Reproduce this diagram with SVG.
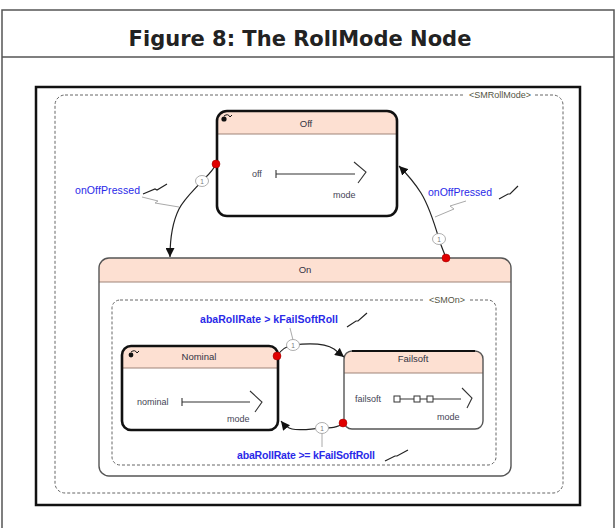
<svg xmlns="http://www.w3.org/2000/svg" width="616" height="528" viewBox="0 0 616 528">
<style>
.title{font-family:"DejaVu Sans",Verdana,sans-serif;font-weight:bold;font-size:21px;fill:#222}
.nt{font-family:"Liberation Sans",Arial,sans-serif;font-size:9.5px;fill:#334}
.ct{font-family:"Liberation Sans",Arial,sans-serif;font-size:9px;fill:#445}
.lbl{font-family:"Liberation Sans",Arial,sans-serif;font-size:10.5px;fill:#2a2ae8}
.sm{font-family:"Liberation Sans",Arial,sans-serif;font-size:9px;fill:#554}
.hdr{fill:#fde0d2}
.sep{stroke:#a08478;stroke-width:1.2}
.thick{fill:none;stroke:#111;stroke-width:2.6}
.thin{fill:none;stroke:#555;stroke-width:1.4}
.dash{fill:none;stroke:#666;stroke-width:1;stroke-dasharray:3 2}
.tr{fill:none;stroke:#222;stroke-width:1.2}
.gz{fill:none;stroke:#aaa;stroke-width:1}
.bk{fill:none;stroke:#222;stroke-width:1.2}
.dot{fill:#e00000;stroke:#900;stroke-width:0.5}
.pri{fill:#fff;stroke:#999;stroke-width:0.8}
.pt{font-family:"Liberation Sans",Arial,sans-serif;font-size:6.5px;fill:#777}
.out{fill:none;stroke:#333;stroke-width:1.1}
</style>
<defs>
<marker id="arr" viewBox="0 0 10 10" refX="10" refY="5" markerWidth="9" markerHeight="9" markerUnits="userSpaceOnUse" orient="auto">
<path d="M0,0 L10,5 L0,10 z" fill="#111"/>
</marker>
</defs>
<rect x="0" y="0" width="616" height="528" fill="#fff"/>
<g id="titlebox">
<rect x="2" y="10" width="612" height="530" fill="none" stroke="#555" stroke-width="1.5"/>
<line x1="2" y1="57" x2="614" y2="57" stroke="#555" stroke-width="1.5"/>
<text class="title" x="300" y="46" text-anchor="middle">Figure 8: The RollMode Node</text>
</g>
<g id="frame">
<rect x="36" y="87" width="544" height="418" fill="none" stroke="#111" stroke-width="2.5"/>
</g>
<g id="SMRollMode">
<rect x="55" y="95" width="508" height="398" rx="10" class="dash"/>
<rect x="465" y="90" width="70" height="10" fill="#fff"/>
<text class="sm" x="500" y="98" text-anchor="middle">&lt;SMRollMode&gt;</text>
</g>
<g id="Off">
<rect x="217" y="111" width="180" height="105" rx="10" fill="#fff"/>
<path class="hdr" d="M217,134 V121 Q217,111 227,111 H387 Q397,111 397,121 V134 Z"/>
<line class="sep" x1="217" y1="134" x2="397" y2="134"/>
<rect x="217" y="111" width="180" height="105" rx="10" class="thick"/>
<circle cx="224" cy="119" r="2.6" fill="#111"/>
<path d="M224,116 Q228,113 230,117 L232,115" fill="none" stroke="#111" stroke-width="1"/>
<text class="nt" x="306" y="127" text-anchor="middle">Off</text>
<text class="ct" x="252" y="177">off</text>
<line class="out" x1="276" y1="174" x2="355" y2="174"/>
<line class="out" x1="276" y1="170" x2="276" y2="178"/>
<path class="out" d="M354,162 L366,172 L358,183"/>
<text class="ct" x="333" y="198">mode</text>
</g>
<g id="On">
<rect x="99" y="258" width="412" height="218" rx="10" fill="#fff"/>
<path class="hdr" d="M99,282 V268 Q99,258 109,258 H501 Q511,258 511,268 V282 Z"/>
<line class="sep" x1="99" y1="282" x2="511" y2="282"/>
<rect x="99" y="258" width="412" height="218" rx="10" class="thin"/>
<text class="nt" x="305" y="273" text-anchor="middle">On</text>
</g>
<g id="SMOn">
<rect x="112" y="300" width="384" height="165" rx="8" class="dash"/>
<rect x="425" y="295" width="45" height="10" fill="#fff"/>
<text class="sm" x="447" y="303" text-anchor="middle">&lt;SMOn&gt;</text>
</g>
<g id="Nominal">
<rect x="122" y="346" width="156" height="84" rx="9" fill="#fff"/>
<path class="hdr" d="M122,368 V355 Q122,346 131,346 H269 Q278,346 278,355 V368 Z"/>
<line class="sep" x1="122" y1="368" x2="278" y2="368"/>
<rect x="122" y="346" width="156" height="84" rx="9" class="thick"/>
<circle cx="131" cy="355" r="2.4" fill="#111"/>
<path d="M131,352 Q135,349 137,353 L139,351" fill="none" stroke="#111" stroke-width="1"/>
<text class="nt" x="199" y="360" text-anchor="middle">Nominal</text>
<text class="ct" x="137" y="405">nominal</text>
<line class="out" x1="182" y1="402" x2="250" y2="402"/>
<line class="out" x1="182" y1="398" x2="182" y2="406"/>
<path class="out" d="M250,391 L262,402 L255,412"/>
<text class="ct" x="227" y="422">mode</text>
</g>
<g id="Failsoft">
<rect x="344" y="351" width="139" height="78" rx="8" fill="#fff"/>
<path class="hdr" d="M344,373 V359 Q344,351 352,351 H475 Q483,351 483,359 V373 Z"/>
<line class="sep" x1="344" y1="373" x2="483" y2="373"/>
<rect x="344" y="351" width="139" height="78" rx="8" class="thin"/>
<line x1="352" y1="351" x2="475" y2="351" stroke="#111" stroke-width="1.8"/>
<text class="nt" x="413" y="362" text-anchor="middle">Failsoft</text>
<text class="ct" x="355" y="402">failsoft</text>
<line class="out" x1="397" y1="399" x2="461" y2="399"/>
<rect x="394" y="396" width="6" height="6" fill="#fff" stroke="#333" stroke-width="1"/>
<rect x="414" y="396" width="6" height="6" fill="#fff" stroke="#333" stroke-width="1"/>
<rect x="427" y="396" width="6" height="6" fill="#fff" stroke="#333" stroke-width="1"/>
<path class="out" d="M462,388 L472,398 L467,408"/>
<text class="ct" x="437" y="420">mode</text>
</g>
<g id="connectors">
<path class="tr" d="M216,164 C213,171 207,176 202,181 C195,189 184,199 179,209 C173,221 170,236 170,257" marker-end="url(#arr)"/>
<path class="tr" d="M446,258 C444,252 441,246 439,239 C434,222 429,206 421,193 C414,182 408,175 399,166" marker-end="url(#arr)"/>
<path class="tr" d="M277,356 C281,350 286,346 293,345 C310,343 325,343 334,349 L344,357" marker-end="url(#arr)"/>
<path class="tr" d="M343,423 C338,428 330,428 322,428 C310,429 300,431 292,429 C288,428 285,426 281,421" marker-end="url(#arr)"/>
<path class="gz" d="M142,197 L158,201 L155,203 L179,207"/>
<path class="gz" d="M466,201 L450,206 L454,209 L435,217"/>
<path class="gz" d="M293,340 L290,328"/>
<path class="gz" d="M322,433 L322,447"/>
<ellipse class="pri" cx="202" cy="181" rx="6.5" ry="5.5"/>
<text class="pt" x="202" y="183.5" text-anchor="middle">1</text>
<ellipse class="pri" cx="439" cy="239" rx="6.5" ry="5.5"/>
<text class="pt" x="439" y="241.5" text-anchor="middle">1</text>
<ellipse class="pri" cx="293" cy="345" rx="6.5" ry="5.5"/>
<text class="pt" x="293" y="347.5" text-anchor="middle">1</text>
<ellipse class="pri" cx="322" cy="428" rx="6.5" ry="5.5"/>
<text class="pt" x="322" y="430.5" text-anchor="middle">1</text>
<circle class="dot" cx="216" cy="164" r="4"/>
<circle class="dot" cx="446" cy="258" r="4"/>
<circle class="dot" cx="277" cy="356" r="4"/>
<circle class="dot" cx="343" cy="423" r="4"/>
</g>
<g id="labels">
<text class="lbl" x="75" y="194" textLength="65">onOffPressed</text>
<path class="bk" d="M143,194 L155,189 L157,190 L167,184"/>
<text class="lbl" x="428" y="196" textLength="64">onOffPressed</text>
<path class="bk" d="M499,199 L508,194 L510,194 L518,186"/>
<text class="lbl" x="200" y="323" font-weight="bold" textLength="138">abaRollRate &gt; kFailSoftRoll</text>
<path class="bk" d="M347,327 L356,321 L358,321 L367,313"/>
<text class="lbl" x="237" y="459" font-weight="bold" textLength="138">abaRollRate &gt;= kFailSoftRoll</text>
<path class="bk" d="M385,461 L395,456 L397,456 L408,450"/>
</g>
</svg>
